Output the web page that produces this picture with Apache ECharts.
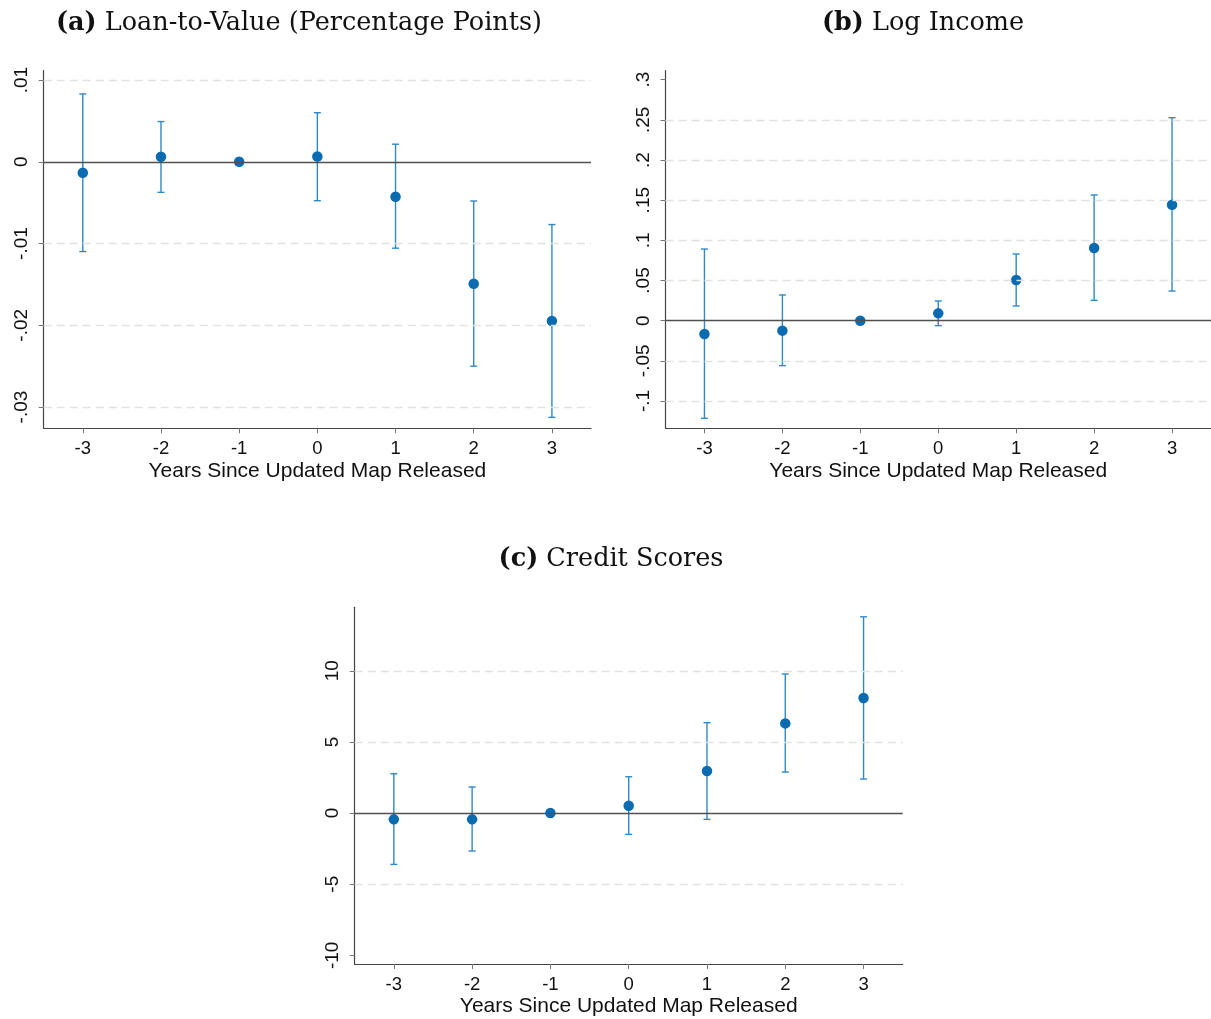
<!DOCTYPE html>
<html><head><meta charset="utf-8">
<script src="https://cdn.jsdelivr.net/npm/echarts@6/dist/echarts.min.js"></script>
<style>html,body{margin:0;padding:0;background:#fff}#c{width:1211px;height:1019px}</style>
</head><body><div id="c"></div>
<script>
// ---- data ----
const years = [-3, -2, -1, 0, 1, 2, 3];

const ltvEst = [-0.00134, 0.00061, 0, 0.00065, -0.00427, -0.01492, -0.01947];
const ltvLo  = [-0.01098, -0.00374, 0, -0.00476, -0.01057, -0.02500, -0.03126];
const ltvHi  = [0.00830, 0.00492, 0, 0.00600, 0.00215, -0.00480, -0.00768];

const incEst = [-0.0166, -0.0124, 0, 0.0091, 0.0506, 0.0905, 0.1444];
const incLo  = [-0.1216, -0.0560, 0, -0.0062, 0.0183, 0.0253, 0.0369];
const incHi  = [0.0892, 0.0320, 0, 0.0245, 0.0830, 0.1564, 0.2527];

const crEst = [-0.445, -0.445, 0, 0.515, 2.95, 6.30, 8.08];
const crLo  = [-3.61, -2.67, 0, -1.50, -0.445, 2.88, 2.39];
const crHi  = [2.76, 1.83, 0, 2.55, 6.35, 9.77, 13.79];

const ltvTicks = [-0.03, -0.02, -0.01, 0, 0.01];
const ltvTickLabels = ['-.03', '-.02', '-.01', '0', '.01'];
const ltvGrid = [-0.03, -0.02, -0.01, 0.01];

const incTicks = [-0.1, -0.05, 0, 0.05, 0.1, 0.15, 0.2, 0.25, 0.3];
const incTickLabels = ['-.1', '-.05', '0', '.05', '.1', '.15', '.2', '.25', '.3'];
const incGrid = [-0.1, -0.05, 0.05, 0.1, 0.15, 0.2, 0.25];

const crTicks = [-10, -5, 0, 5, 10];
const crTickLabels = ['-10', '-5', '0', '5', '10'];
const crGrid = [-5, 5, 10];

const xTickLabels = ['-3', '-2', '-1', '0', '1', '2', '3'];

const titles = [
  ['(a)', 'Loan-to-Value (Percentage Points)'],
  ['(b)', 'Log Income'],
  ['(c)', 'Credit Scores']
];
const xName = 'Years Since Updated Map Released';

// ---- styles ----
const DOT = '#0a6bb0';
const BAR = '#2f89c8';
const SANS = 'Liberation Sans';
const SERIF = 'DejaVu Serif';

const grids = [
  { left: 43.7, top: 70.7, width: 547.3, height: 357.6 },
  { left: 665.5, top: 70.7, width: 548, height: 357.6 },
  { left: 354.7, top: 607.3, width: 548, height: 356.7 }
];
const yRanges = [[-0.0326, 0.01114], [-0.134, 0.3112], [-10.61, 14.46]];
const yTicks = [ltvTicks, incTicks, crTicks];
const yLabels = [ltvTickLabels, incTickLabels, crTickLabels];
const gridLines = [ltvGrid, incGrid, crGrid];
const est = [ltvEst, incEst, crEst];
const lo = [ltvLo, incLo, crLo];
const hi = [ltvHi, incHi, crHi];
const titlePos = [[294, 5], [918, 5], [606, 541]];

function lookup(ticks, labels, v) {
  const i = ticks.findIndex(t => Math.abs(t - v) < 1e-9);
  return i >= 0 ? labels[i] : '';
}

const xAxes = [], yAxes = [], series = [], title = [];
for (let g = 0; g < 3; g++) {
  xAxes.push({
    type: 'value', gridIndex: g, min: -3.5, max: 3.5,
    axisLine: { show: true, onZero: false, lineStyle: { color: '#444', width: 1.2 } },
    axisTick: { show: true, customValues: years, length: 5, lineStyle: { color: '#777' } },
    axisLabel: { customValues: years, margin: 11, fontFamily: SANS, fontSize: 18.5, color: '#111',
      formatter: v => lookup(years, xTickLabels, v) },
    splitLine: { show: false },
    name: xName, nameLocation: 'middle', nameGap: 32,
    nameTextStyle: { fontFamily: SANS, fontSize: 21, color: '#111' }
  });
  const tk = yTicks[g], lb = yLabels[g];
  yAxes.push({
    type: 'value', gridIndex: g, min: yRanges[g][0], max: yRanges[g][1],
    axisLine: { show: true, onZero: false, lineStyle: { color: '#444', width: 1.2 } },
    axisTick: { show: true, customValues: tk, length: 5, lineStyle: { color: '#777' } },
    axisLabel: { customValues: tk, rotate: 90, margin: 12, fontFamily: SANS, fontSize: 19, color: '#111',
      formatter: v => lookup(tk, lb, v) },
    splitLine: { show: false }
  });
  // reference lines
  const ml = gridLines[g].map(v => ({ yAxis: v, lineStyle: { type: [8, 5], color: '#e2e2e2', width: 1.3 } }));
  ml.push({ yAxis: 0, lineStyle: { type: 'solid', color: '#505050', width: 1.4 } });
  series.push({
    type: 'line', xAxisIndex: g, yAxisIndex: g, data: [], z: 1, silent: true,
    markLine: { silent: true, symbol: ['none', 'none'], label: { show: false }, animation: false, data: ml }
  });
  // error bars
  const ebData = years.map((x, i) => [x, lo[g][i], hi[g][i]]).filter(d => d[1] !== d[2]);
  series.push({
    type: 'custom', xAxisIndex: g, yAxisIndex: g, z: 3, silent: true,
    data: ebData,
    renderItem: (params, api) => {
      const x = api.value(0);
      const pH = api.coord([x, api.value(2)]);
      const pL = api.coord([x, api.value(1)]);
      const w = 3.5;
      const st = { stroke: BAR, lineWidth: 1.4 };
      return { type: 'group', children: [
        { type: 'line', shape: { x1: pH[0], y1: pH[1], x2: pL[0], y2: pL[1] }, style: st },
        { type: 'line', shape: { x1: pH[0] - w, y1: pH[1], x2: pH[0] + w, y2: pH[1] }, style: st },
        { type: 'line', shape: { x1: pL[0] - w, y1: pL[1], x2: pL[0] + w, y2: pL[1] }, style: st }
      ]};
    }
  });
  // point estimates
  series.push({
    type: 'scatter', xAxisIndex: g, yAxisIndex: g, z: 4, symbol: 'circle', symbolSize: 10.5,
    itemStyle: { color: DOT, opacity: 1 },
    data: years.map((x, i) => [x, est[g][i]])
  });
  title.push({
    text: '{b|' + titles[g][0] + '} ' + titles[g][1],
    left: titlePos[g][0], top: titlePos[g][1], textAlign: 'center',
    textStyle: { fontFamily: SERIF, fontSize: 25.5, fontWeight: 'normal', color: '#111',
      rich: { b: { fontFamily: SERIF, fontSize: 25.5, fontWeight: 'bold', color: '#111' } } }
  });
}

const chart = echarts.init(document.getElementById('c'), null, { renderer: 'canvas' });
chart.setOption({
  animation: false,
  backgroundColor: '#fff',
  title: title,
  grid: grids,
  xAxis: xAxes,
  yAxis: yAxes,
  series: series
});
</script>
</body></html>
